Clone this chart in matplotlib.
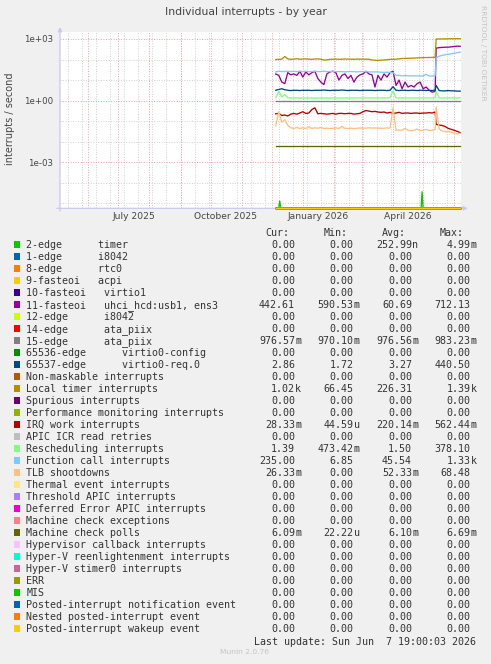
import numpy as np
import pandas as pd
import matplotlib
matplotlib.use('Agg')
import matplotlib.pyplot as plt
from matplotlib.patches import Rectangle

# ---- data ----------------------------------------------------------------
# day offsets counted from 2025-12-01
days = [4, 7, 10, 13, 16, 19, 22, 25, 28, 31, 34, 37, 40, 43, 46, 49, 52, 55, 58, 61,
        64, 67, 70, 73, 76, 79, 82, 85, 88, 91, 94, 97, 100, 103, 106, 109, 112, 115, 118, 121,
        124, 127, 130, 133, 136, 139, 142, 145, 148, 151, 154, 157, 160, 163, 164,
        167, 170, 173, 176, 179, 182, 185, 188]

local_timer = [100, 102, 105, 140, 108, 102, 105, 110, 104, 106, 108, 104, 103, 106, 108, 104, 95, 96, 102, 104,
               105, 103, 104, 106, 105, 104, 103, 106, 104, 105, 104, 103, 96, 92, 90, 93, 95, 98, 102, 103,
               104, 108, 112, 114, 115, 116, 118, 120, 122, 124, 125, 126, 127, 128, 990,
               1000, 1010, 1010, 1020, 1030, 1030, 1040, 1040]
fasteoi_11 = [20, 17, 8.1, 6.7, 23, 18, 20, 17, 27, 14, 25, 18, 23, 27, 12, 8, 6, 20, 25, 27,
              23, 10, 17, 20, 12, 17, 8, 14, 18, 20, 27, 20, 18, 4.6, 17, 10, 20, 14, 23, 27,
              5.5, 10, 3.8, 8, 4.6, 5.5, 4.6, 6.7, 8, 3.8, 4.6, 3.2, 2.6, 2.8, 360,
              380, 390, 400, 400, 415, 430, 450, 440]
func_call = [25, 27, 26, 26, 27, 26, 27, 26, 27, 26, 27, 26, 26, 27, 26, 26, 27, 26, 26, 27,
             26, 26, 26, 25, 26, 26, 26, 25, 26, 26, 26, 25, 25, 25, 25, 24, 24, 24, 24, 23,
             17, 17, 16, 17, 16, 16, 16, 16, 16, 16, 19, 16, 16, 16, 120,
             145, 160, 170, 180, 190, 200, 215, 230]
virtio_req = [3.2, 3.5, 3.8, 3.4, 3.2, 3.1, 3.2, 3.2, 3.1, 3.2, 3.2, 3.2, 3.1, 3.2, 3.2, 3.2, 3.3, 3.2, 3.1, 3.2,
              3.2, 3.2, 3.3, 3.2, 3.1, 3.2, 3.2, 3.2, 3.1, 3.2, 3.2, 3.2, 3.2, 3.1, 3.2, 3.2, 3.2, 3.1, 3.2, 4.8,
              3.2, 3.1, 3.2, 3.2, 3.1, 3.2, 3.2, 3.1, 3.2, 3.2, 3.1, 3.2, 3.1, 3.2, 5.5,
              3.1, 3.0, 3.0, 3.1, 3.0, 3.0, 2.9, 2.9]
resched = [1.4, 2.8, 1.5, 2.0, 1.4, 1.35, 1.35, 1.35, 1.3, 1.35, 1.35, 1.35, 1.35, 1.3, 1.35, 1.35, 1.35, 1.35, 1.3, 1.35,
           1.35, 1.35, 1.35, 1.35, 1.3, 1.35, 1.35, 1.35, 1.35, 1.35, 1.35, 1.35, 1.35, 1.35, 1.35, 1.35, 1.35, 1.35, 1.35, 3.0,
           1.35, 1.35, 1.35, 1.35, 1.35, 1.35, 1.35, 1.35, 1.35, 1.35, 1.35, 1.35, 1.35, 1.35, 2.8,
           1.35, 1.35, 1.35, 1.35, 1.35, 1.35, 1.35, 1.39]
irq_work = [0.23, 0.24, 0.19, 0.20, 0.18, 0.22, 0.24, 0.22, 0.25, 0.29, 0.24, 0.25, 0.37, 0.45, 0.23, 0.24, 0.23, 0.22, 0.23, 0.24,
            0.22, 0.24, 0.24, 0.23, 0.24, 0.24, 0.22, 0.23, 0.24, 0.29, 0.33, 0.31, 0.29, 0.30, 0.28, 0.27, 0.28, 0.25, 0.27, 0.24,
            0.25, 0.27, 0.24, 0.25, 0.25, 0.24, 0.25, 0.25, 0.24, 0.25, 0.25, 0.26, 0.25, 0.28, 0.07,
            0.065, 0.062, 0.055, 0.045, 0.040, 0.036, 0.032, 0.028]
tlb = [0.06, 0.29, 0.09, 0.12, 0.063, 0.048, 0.044, 0.05, 0.044, 0.048, 0.044, 0.054, 0.044, 0.048, 0.045, 0.05, 0.044, 0.046, 0.044, 0.045,
       0.048, 0.044, 0.055, 0.045, 0.044, 0.046, 0.044, 0.045, 0.047, 0.046, 0.046, 0.048, 0.046, 0.047, 0.046, 0.045, 0.046, 0.047, 0.046, 0.44,
       0.036, 0.037, 0.036, 0.045, 0.036, 0.035, 0.036, 0.042, 0.035, 0.036, 0.040, 0.035, 0.036, 0.04, 0.5,
       0.042, 0.034, 0.030, 0.032, 0.029, 0.027, 0.024, 0.026]

timer_days = [4, 7, 8, 9, 149, 150, 151, 188]
timer_vals = [0, 0, 1.3e-5, 0, 0, 3.7e-5, 0, 0]
flat_days = [4, 188]
ata_piix_15 = [0.977, 0.977]
mce_polls = [0.0061, 0.0061]
zero = [0, 0]

labels = ['2-edge      timer', '1-edge      i8042', '8-edge      rtc0', '9-fasteoi   acpi',
          '10-fasteoi   virtio1', '11-fasteoi   uhci_hcd:usb1, ens3', '12-edge      i8042',
          '14-edge      ata_piix', '15-edge      ata_piix', '65536-edge      virtio0-config',
          '65537-edge      virtio0-req.0', 'Non-maskable interrupts', 'Local timer interrupts',
          'Spurious interrupts', 'Performance monitoring interrupts', 'IRQ work interrupts',
          'APIC ICR read retries', 'Rescheduling interrupts', 'Function call interrupts',
          'TLB shootdowns', 'Thermal event interrupts', 'Threshold APIC interrupts',
          'Deferred Error APIC interrupts', 'Machine check exceptions', 'Machine check polls',
          'Hypervisor callback interrupts', 'Hyper-V reenlightenment interrupts',
          'Hyper-V stimer0 interrupts', 'ERR', 'MIS', 'Posted-interrupt notification event',
          'Nested posted-interrupt event', 'Posted-interrupt wakeup event']
colors = ['#00CC00', '#0066B3', '#FF8000', '#FFCC00', '#330099', '#990099', '#CCFF00', '#FF0000',
          '#808080', '#008F00', '#00487D', '#B35A00', '#B38F00', '#6B006B', '#8FB300', '#B30000',
          '#BEBEBE', '#80FF80', '#80C9FF', '#FFC080', '#FFE680', '#AA80FF', '#EE00CC', '#FF8080',
          '#666600', '#FFBFFF', '#00FFCC', '#CC6699', '#999900', '#00CC00', '#0066B3', '#FF8000',
          '#FFCC00']
cur = ['0.00', '0.00', '0.00', '0.00', '0.00', '442.61', '0.00', '0.00', '976.57m', '0.00', '2.86',
       '0.00', '1.02k', '0.00', '0.00', '28.33m', '0.00', '1.39', '235.00', '26.33m', '0.00', '0.00',
       '0.00', '0.00', '6.09m', '0.00', '0.00', '0.00', '0.00', '0.00', '0.00', '0.00', '0.00']
mins = ['0.00', '0.00', '0.00', '0.00', '0.00', '590.53m', '0.00', '0.00', '970.10m', '0.00', '1.72',
        '0.00', '66.45', '0.00', '0.00', '44.59u', '0.00', '473.42m', '6.85', '0.00', '0.00', '0.00',
        '0.00', '0.00', '22.22u', '0.00', '0.00', '0.00', '0.00', '0.00', '0.00', '0.00', '0.00']
avgs = ['252.99n', '0.00', '0.00', '0.00', '0.00', '60.69', '0.00', '0.00', '976.56m', '0.00', '3.27',
        '0.00', '226.31', '0.00', '0.00', '220.14m', '0.00', '1.50', '45.54', '52.33m', '0.00', '0.00',
        '0.00', '0.00', '6.10m', '0.00', '0.00', '0.00', '0.00', '0.00', '0.00', '0.00', '0.00']
maxs = ['4.99m', '0.00', '0.00', '0.00', '0.00', '712.13', '0.00', '0.00', '983.23m', '0.00', '440.50',
        '0.00', '1.39k', '0.00', '0.00', '562.44m', '0.00', '378.10', '1.33k', '68.48', '0.00', '0.00',
        '0.00', '0.00', '6.69m', '0.00', '0.00', '0.00', '0.00', '0.00', '0.00', '0.00', '0.00']

# which arrays belong to which legend row (rest are all-zero)
plotted = {0: (timer_days, timer_vals), 5: (days, fasteoi_11), 8: (flat_days, ata_piix_15),
           10: (days, virtio_req), 12: (days, local_timer), 15: (days, irq_work),
           17: (days, resched), 18: (days, func_call), 19: (days, tlb), 24: (flat_days, mce_polls)}

# ---- layout ---------------------------------------------------------------
W, H = 491, 664
fig = plt.figure(figsize=(W / 100, H / 100), dpi=100, facecolor='#f0f0f0')
ax = fig.add_axes([60 / W, 1 - 208.3 / H, 401 / W, 176 / H])
ax.set_facecolor('white')
for s in ax.spines.values():
    s.set_visible(False)

ylo, yhi = 10 ** -5.238, 10 ** 3.326
ax.set_yscale('log')
ax.set_ylim(ylo, yhi)
t0, t1 = pd.Timestamp('2025-05-03 19:00'), pd.Timestamp('2026-06-07 19:00')
ax.set_xlim(t0, t1)

# grid: decades, red every third one; 2-week minor, month major
for e in range(-5, 4):
    red = e % 3 == 0
    ax.axhline(10.0 ** e, color='#f0a0a0' if red else '#cfcfcf', lw=0.7,
               ls=(0, (1, 1.6)), zorder=0.5 if red else 0.4)
for d in pd.date_range('2025-05-12', t1, freq='14D'):
    ax.axvline(d, color='#cfcfcf', lw=0.7, ls=(0, (1, 1.6)), zorder=0.4)
for d in pd.date_range('2025-06-01', t1, freq='MS'):
    ax.axvline(d, color='#f0a0a0', lw=0.7, ls=(0, (1, 1.6)), zorder=0.5)

ax.annotate('', xy=(1.017, 0), xytext=(-0.008, 0), xycoords='axes fraction',
            arrowprops=dict(arrowstyle='-|>', color='#c8c8f4', lw=0.9, mutation_scale=6,
                            shrinkA=0, shrinkB=0), annotation_clip=False, zorder=1)
ax.annotate('', xy=(0, 1.03), xytext=(0, -0.015), xycoords='axes fraction',
            arrowprops=dict(arrowstyle='-|>', color='#c8c8f4', lw=0.9, mutation_scale=6,
                            shrinkA=0, shrinkB=0), annotation_clip=False, zorder=1)

base = pd.Timestamp('2025-12-01')
for i, col in enumerate(colors):
    dx, vals = plotted.get(i, (flat_days, zero))
    x = base + pd.to_timedelta(dx, unit='D')
    v = np.asarray(vals, dtype=float)
    v = np.where(v > 0, v, ylo)  # rrdtool puts zeros on the floor of a log graph
    ax.plot(x, v, color=col, lw=0.95, clip_on=False, zorder=2)

ax.set_yticks([1e-3, 1e0, 1e3])
ax.set_yticklabels(['1e-03', '1e+00', '1e+03'])
ax.yaxis.set_minor_locator(matplotlib.ticker.NullLocator())
ax.set_xticks([pd.Timestamp('2025-07-16'), pd.Timestamp('2025-10-16'),
               pd.Timestamp('2026-01-16'), pd.Timestamp('2026-04-16')])
ax.set_xticklabels(['July 2025', 'October 2025', 'January 2026', 'April 2026'])
ax.xaxis.set_minor_locator(matplotlib.ticker.NullLocator())
ax.tick_params(axis='x', length=0, pad=2.5, labelsize=6.6, labelcolor='#444444')
ax.tick_params(axis='y', length=0, pad=5, labelsize=6.2, labelcolor='#444444')

fig.text(245.5 / W, 1 - 12 / H, 'Individual interrupts - by year', ha='center', va='center',
         fontsize=7.8, color='#444444')
fig.text(10 / W, 1 - 119 / H, 'interrupts / second', rotation=90, ha='center', va='center',
         fontsize=7, color='#444444')
fig.text(483 / W, 1 - 53 / H, 'RRDTOOL / TOBI OETIKER', rotation=270, ha='center', va='center',
         fontsize=5.4, color='#c4c4c4')

# ---- legend, drawn in pixel coordinates -----------------------------------
lg = fig.add_axes([0, 0, 1, 1], facecolor='none')
lg.set_xlim(0, W)
lg.set_ylim(H, 0)
lg.axis('off')
mono = dict(family='DejaVu Sans Mono', fontsize=7.2, color='#333333', va='baseline')

for x, txt in [(265, 'Cur:'), (323.3, 'Min:'), (381.7, 'Avg:'), (440, 'Max:')]:
    lg.text(x, 232.3 + 3.6, txt, ha='left', **mono)

col_edges = [295, 353.5, 412, 470.3]
for i, lab in enumerate(labels):
    yc = 244.6 + 12.0 * i
    lg.add_patch(Rectangle((14, yc - 3.2), 6.4, 6.4, facecolor=colors[i], edgecolor='none'))
    lg.text(26.3, yc + 3.6, lab, ha='left', **mono)
    for edge, col in zip(col_edges, (cur, mins, avgs, maxs)):
        s = col[i]
        num, suf = (s[:-1], s[-1]) if s[-1].isalpha() else (s, '')
        lg.text(edge, yc + 3.6, num, ha='right', **mono)
        if suf:
            lg.text(edge + 0.3, yc + 3.6, suf, ha='left', **mono)

lg.text(476.5, 641 + 3.6, 'Last update: Sun Jun  7 19:00:03 2026', ha='right', **mono)
lg.text(245, 651.7, 'Munin 2.0.76', ha='center', va='center', fontsize=5.4, color='#c4c4c4')

fig.savefig('out.png', dpi=100, facecolor=fig.get_facecolor())
